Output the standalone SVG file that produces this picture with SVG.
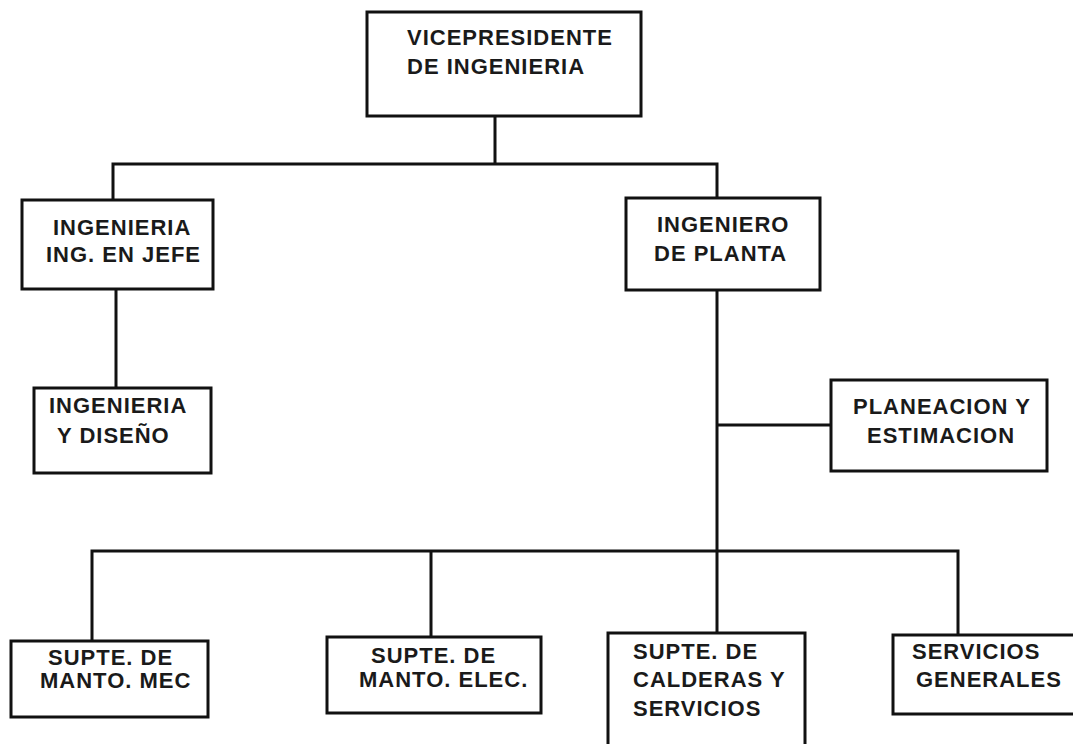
<svg xmlns="http://www.w3.org/2000/svg" width="1073" height="744" viewBox="0 0 1073 744">
<style>
.box{fill:#fff;stroke:#111;stroke-width:3}
.t{font-family:"Liberation Sans",Arial,sans-serif;font-weight:bold;font-size:22px;letter-spacing:1px;fill:#1a1a1a}
.c{fill:none;stroke:#111;stroke-width:3}
</style>
<rect width="1073" height="744" fill="#fff"/>
<g id="connectors">
<path class="c" d="M495,116V164M113,200V164H717V198"/>
<path class="c" d="M116,289V388"/>
<path class="c" d="M717,290V551M717,425H831"/>
<path class="c" d="M92,641V551H958V635M431,551V637M717,551V633"/>
</g>
<g id="vp"><rect class="box" x="367" y="12" width="274" height="104"/>
<text class="t" x="407" y="45">VICEPRESIDENTE</text><text class="t" x="407" y="74">DE INGENIERIA</text></g>
<g id="ing_jefe"><rect class="box" x="22" y="200" width="191" height="89"/>
<text class="t" x="53" y="235">INGENIERIA</text><text class="t" x="46" y="262">ING. EN JEFE</text></g>
<g id="ing_diseno"><rect class="box" x="34" y="388" width="177" height="85"/>
<text class="t" x="49" y="413">INGENIERIA</text><text class="t" x="57" y="443">Y DISEÑO</text></g>
<g id="ing_planta"><rect class="box" x="626" y="198" width="194" height="92"/>
<text class="t" x="657" y="232">INGENIERO</text><text class="t" x="654" y="261">DE PLANTA</text></g>
<g id="planeacion"><rect class="box" x="831" y="380" width="216" height="91"/>
<text class="t" x="853" y="414">PLANEACION Y</text><text class="t" x="867" y="443">ESTIMACION</text></g>
<g id="mec"><rect class="box" x="11" y="641" width="197" height="76"/>
<text class="t" x="48" y="665">SUPTE. DE</text><text class="t" x="40" y="688">MANTO. MEC</text></g>
<g id="elec"><rect class="box" x="327" y="637" width="214" height="76"/>
<text class="t" x="371" y="663">SUPTE. DE</text><text class="t" x="359" y="687">MANTO. ELEC.</text></g>
<g id="calderas"><rect class="box" x="608" y="633" width="197" height="115"/>
<text class="t" x="633" y="659">SUPTE. DE</text><text class="t" x="633" y="687">CALDERAS Y</text><text class="t" x="633" y="716">SERVICIOS</text></g>
<g id="servicios"><rect class="box" x="893" y="635" width="190" height="79"/>
<text class="t" x="912" y="659">SERVICIOS</text><text class="t" x="916" y="687">GENERALES</text></g>
</svg>
